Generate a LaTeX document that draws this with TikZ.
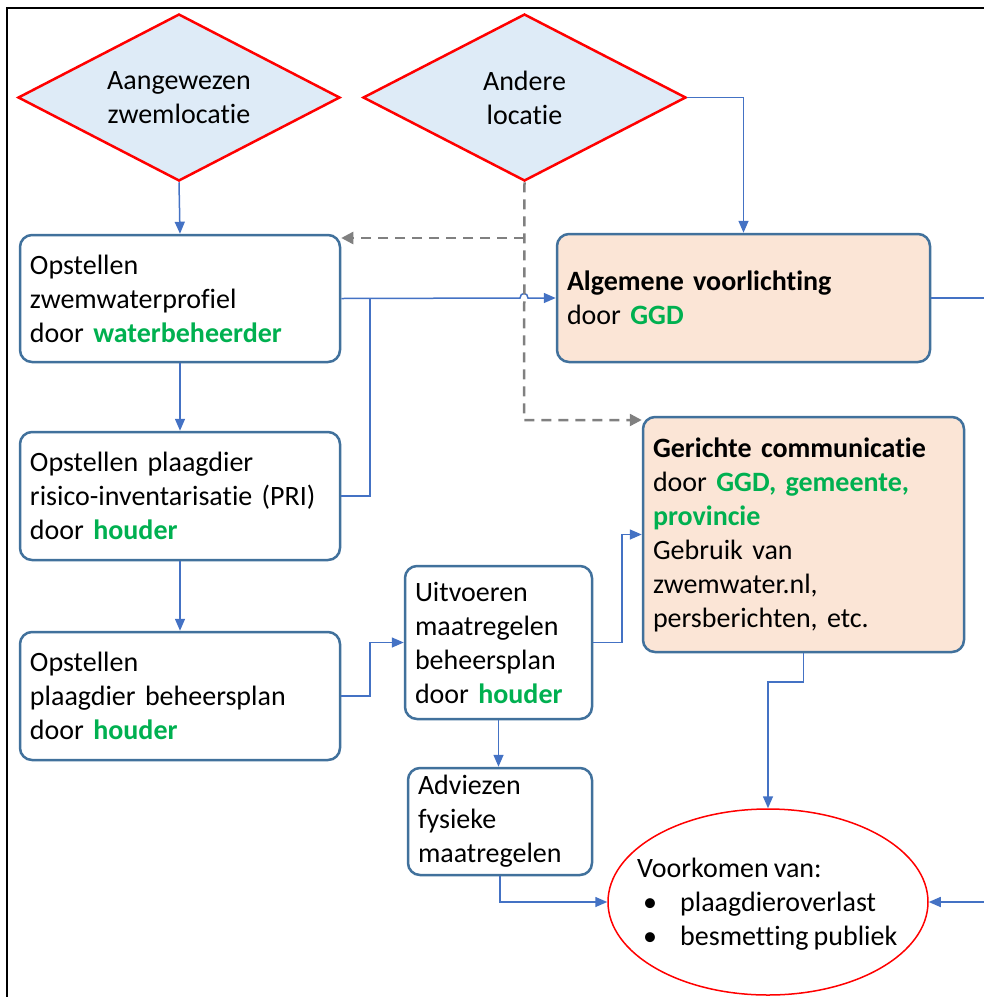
\documentclass[tikz,border=0pt]{standalone}
\usepackage{fontspec}
\setmainfont{Carlito}[Ligatures=NoCommon, WordSpace=0.8]
\usetikzlibrary{shapes.geometric,arrows.meta}
\definecolor{dfill}{RGB}{222,235,247}
\definecolor{bord}{RGB}{65,113,156}
\definecolor{peach}{RGB}{251,229,214}
\definecolor{cblue}{RGB}{68,114,196}
\definecolor{grn}{RGB}{0,176,80}
\definecolor{dgray}{RGB}{128,128,128}
\definecolor{pred}{RGB}{255,0,0}
\newcommand{\gr}[1]{\textbf{\textcolor{grn}{#1}}}
\begin{document}
\begin{tikzpicture}[x=1pt,y=-1pt,
  every node/.style={font=\fontsize{28}{34}\selectfont},
  dec/.style={diamond, draw=pred, fill=dfill, line width=2.5pt, aspect=1.93, inner sep=0pt, align=center},
  procbox/.style={draw=bord, line width=2.5pt, rounded corners=12pt, fill=white, align=left, inner xsep=10pt, inner ysep=0pt},
  infobox/.style={procbox, fill=peach},
  conn/.style={draw=cblue, line width=1.5pt, -{Triangle[length=12pt,width=10pt]}},
  connl/.style={draw=cblue, line width=1.5pt},
  dline/.style={draw=dgray, line width=2.5pt, dash pattern=on 10pt off 7pt},
  dasharr/.style={dline, -{Triangle[length=12pt,width=12pt]}}
]
\useasboundingbox (0,0) rectangle (984,997);
\draw[line width=2pt] (6.5,997) -- (6.5,8) -- (984,8);

\node[dec, minimum width=322pt, minimum height=167pt] (d1) at (179,97.5) {Aangewezen\\zwemlocatie};
\node[dec, minimum width=323pt, minimum height=167pt] (d2) at (524.5,97.5) {Andere\\locatie};

\node[procbox, text width=300pt, minimum height=127pt] (b1) at (180,298.5)
  {Opstellen\\zwemwaterprofiel\\door \gr{waterbeheerder}};
\node[procbox, text width=300pt, minimum height=128pt] (b2) at (180,496)
  {Opstellen plaagdier\\risico-inventarisatie (PRI)\\door \gr{houder}};
\node[procbox, text width=300pt, minimum height=128pt] (b3) at (180,696)
  {Opstellen\\plaagdier beheersplan\\door \gr{houder}};
\node[procbox, text width=167pt, minimum height=153pt] (b4) at (498.5,642.5)
  {Uitvoeren\\maatregelen\\beheersplan\\door \gr{houder}};
\node[procbox, text width=164pt, minimum height=107pt] (b5) at (500,821.5)
  {Adviezen\\fysieke\\maatregelen};
\node[infobox, text width=353pt, minimum height=128pt] (b6) at (743.5,298)
  {\textbf{Algemene voorlichting}\\door \gr{GGD}};
\node[infobox, text width=301pt, minimum height=235pt] (b7) at (803.5,534.5)
  {\textbf{Gerichte communicatie}\\door \gr{GGD, gemeente,}\\\gr{provincie}\\Gebruik van\\zwemwater.nl,\\persberichten, etc.};
\node[ellipse, draw=pred, line width=1.5pt, fill=white, minimum width=320pt, minimum height=186pt, inner sep=0pt] (ell) at (768,902) {};
\node[anchor=west, align=left, inner sep=0pt] (elltxt) at ([xshift=-131pt,yshift=-2pt]ell.center)
  {Voorkomen van:\\\makebox[43pt][l]{\hspace{6pt}\textbullet}plaagdieroverlast\\\makebox[43pt][l]{\hspace{6pt}\textbullet}besmetting publiek};

\coordinate (offr) at (984,902);
\coordinate (offb6) at (984,298);

% connectors
\draw[conn] (d1.south) -- (b1.north);
\draw[conn] (d2.east) -| (b6.north);
\draw[conn] (b1.east) -- (520,298) .. controls (520,292) and (528,292) .. (528,298) -- (b6.west);
\draw[connl] (b2.east) -- (370,496) -- (370,298);
\draw[conn] (b1.south) -- (b2.north);
\draw[conn] (b2.south) -- (b3.north);
\draw[conn] (b3.east) -- (370,696) |- (b4.west);
\draw[conn] (b4.east) -- (622,642.5) |- (b7.west);
\draw[conn] (b4.south) -- (b4.south |- b5.north);
\draw[conn] (b5.south) |- (ell.west);
\draw[conn] (b7.south) -- (803.5,682) -| (ell.north);
\draw[connl] (b6.east) -- (offb6);
\draw[conn] (offr) -- (ell.east);

% dashed
\draw[dasharr] (d2.south) -- (524,420) -- (b7.west |- {(0,420)});
\draw[dasharr] (524,238) -- (b1.east |- {(0,238)});
\end{tikzpicture}
\end{document}
